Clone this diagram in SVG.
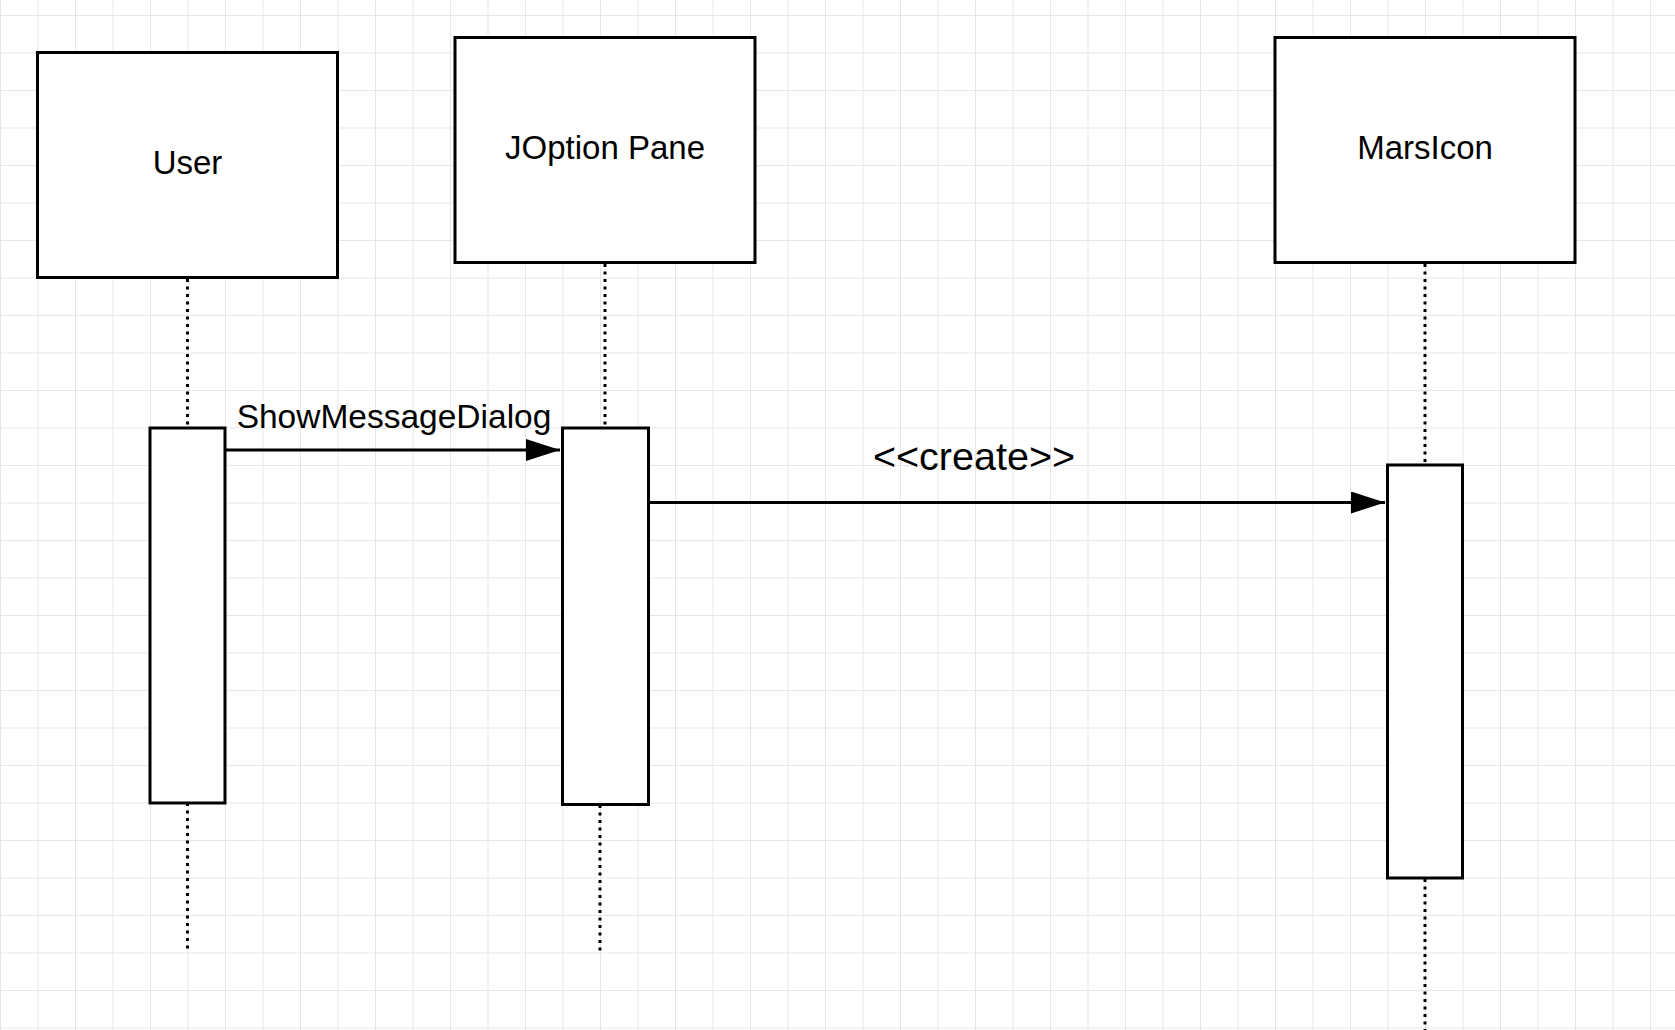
<svg xmlns="http://www.w3.org/2000/svg" width="1675" height="1030" viewBox="0 0 1675 1030">
  <style>
    .box { fill: #ffffff; stroke: #000000; stroke-width: 3; }
    .life { stroke: #000000; stroke-width: 3; stroke-dasharray: 3 4.5; fill: none; }
    .msg { stroke: #000000; stroke-width: 3; fill: none; }
    .lbl { font-family: "Liberation Sans", Arial, sans-serif; fill: #000000; text-anchor: middle; }
  </style>
  <defs>
    <pattern id="grid" patternUnits="userSpaceOnUse" x="0" y="15" width="37.5" height="37.5">
      <path d="M 0 0.5 H 37.5 M 0.5 0 V 37.5" stroke="#e6e6e6" stroke-width="1" fill="none"/>
    </pattern>
    <marker id="arrow" markerUnits="userSpaceOnUse" viewBox="0 0 34 22" refX="34" refY="11" markerWidth="34" markerHeight="22" orient="auto">
      <path d="M 0 0 L 34 11 L 0 22 Z" fill="#000000"/>
    </marker>
  </defs>
  <rect x="0" y="0" width="1675" height="1030" fill="#ffffff"/>
  <rect x="0" y="0" width="1675" height="1030" fill="url(#grid)"/>

  <g id="lifelines">
    <line class="life" x1="187.5" y1="279" x2="187.5" y2="428"/>
    <line class="life" x1="187.5" y1="803" x2="187.5" y2="952"/>
    <line class="life" x1="605" y1="264" x2="605" y2="428"/>
    <line class="life" x1="600" y1="805" x2="600" y2="951"/>
    <line class="life" x1="1425" y1="264" x2="1425" y2="465"/>
    <line class="life" x1="1425" y1="879" x2="1425" y2="1030"/>
  </g>

  <g id="node-user">
    <rect class="box" x="37.5" y="52.5" width="300" height="225"/>
    <text class="lbl" x="187.5" y="174" font-size="33">User</text>
  </g>
  <g id="node-joptionpane">
    <rect class="box" x="455" y="37.5" width="300" height="225"/>
    <text class="lbl" x="605" y="158.5" font-size="33">JOption Pane</text>
  </g>
  <g id="node-marsicon">
    <rect class="box" x="1275" y="37.5" width="300" height="225"/>
    <text class="lbl" x="1425" y="159" font-size="33">MarsIcon</text>
  </g>

  <g id="activation-user">
    <rect class="box" x="150" y="428" width="75" height="375"/>
  </g>
  <g id="activation-joptionpane">
    <rect class="box" x="562.5" y="428" width="86" height="376.5"/>
  </g>
  <g id="activation-marsicon">
    <rect class="box" x="1387.5" y="465" width="75" height="413"/>
  </g>

  <g id="connectors">
    <line class="msg" x1="225" y1="450" x2="560" y2="450" marker-end="url(#arrow)"/>
    <text class="lbl" x="394" y="428" font-size="33.5">ShowMessageDialog</text>
    <line class="msg" x1="648.5" y1="502.5" x2="1385" y2="502.5" marker-end="url(#arrow)"/>
    <text class="lbl" x="974" y="470" font-size="39.5">&lt;&lt;create&gt;&gt;</text>
  </g>
</svg>
